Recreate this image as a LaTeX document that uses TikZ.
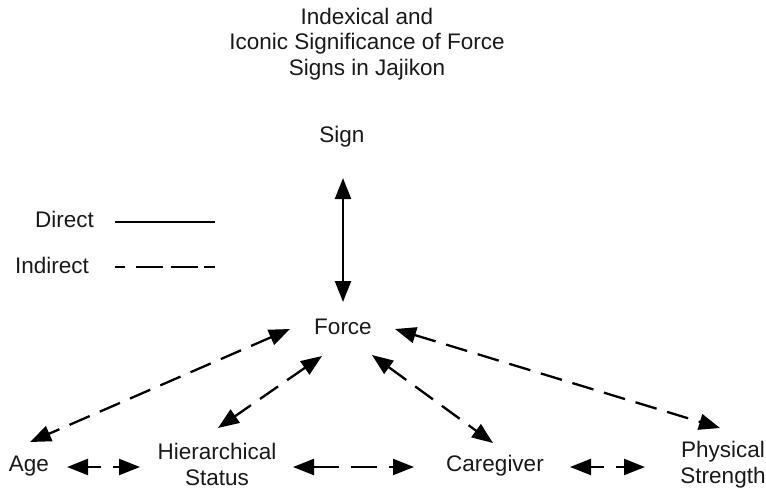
\documentclass[tikz,border=0pt]{standalone}
\usepackage{fontspec}
\setmainfont{Liberation Sans}
\usetikzlibrary{arrows.meta}
\begin{document}
\begin{tikzpicture}[x=1pt,y=-1pt,
  lbl/.style={font=\fontsize{22.5}{25.5}\selectfont, text=black!90, align=center, inner sep=0pt},
  dir/.style={line width=2.3pt, {Triangle[length=21pt,width=16pt]}-{Triangle[length=21pt,width=16pt]}},
  ind/.style={dir, dash pattern=on 22pt off 11pt},
  legsolid/.style={line width=2.3pt},
  legdash/.style={line width=2.3pt, dash pattern=on 10pt off 11pt on 27pt off 8pt on 27pt off 6pt on 10pt off 0pt}]
\useasboundingbox (0,0) rectangle (766,490);
\node[lbl] (title) at (367,44) {Indexical and\\Iconic Significance of Force\\Signs in Jajikon};
\node[lbl] (sign) at (342,137) {Sign};
\node[lbl] (force) at (343,327) {Force};
\node[lbl] (age) at (29,466) {Age};
\node[lbl] (hier) at (217,464.5) {Hierarchical\\Status};
\node[lbl] (care) at (495,466) {Caregiver};
\node[lbl] (phys) at (723,464.5) {Physical\\Strength};
\node[lbl, anchor=east] (direct) at (94,219) {Direct};
\node[lbl, anchor=east] (indirect) at (89,265) {Indirect};
\coordinate (d1) at (115,222); \coordinate (d2) at (215,222);
\coordinate (i1) at (115,267); \coordinate (i2) at (215,267);
\draw[legsolid] (d1) -- (d2);
\draw[legdash] (i1) -- (i2);
\draw[dir] ([shift={(1,41)}]sign.center) -- ([shift={(0,-25)}]force.center);
\draw[ind] ([shift={(-53,2)}]force.center) -- ([shift={(1,-24)}]age.center);
\draw[ind] ([shift={(-21,29)}]force.center) -- ([shift={(1,-36.5)}]hier.center);
\draw[ind] ([shift={(29,28)}]force.center) -- ([shift={(-2,-23)}]care.center);
\draw[ind] ([shift={(52,2)}]force.center) -- ([shift={(-3,-36.5)}]phys.center);
\draw[ind, dash pattern=on 14pt off 12pt] ([shift={(38,1)}]age.center) -- ([shift={(-77,2.5)}]hier.center);
\draw[ind, dash pattern=on 26pt off 12pt] ([shift={(76,2.5)}]hier.center) -- ([shift={(-81,1)}]care.center);
\draw[ind, dash pattern=on 14pt off 12pt] ([shift={(75,1)}]care.center) -- ([shift={(-78,2.5)}]phys.center);
\end{tikzpicture}
\end{document}
